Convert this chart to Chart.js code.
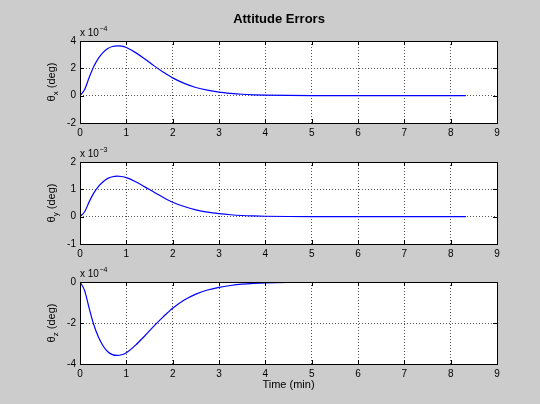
<!DOCTYPE html>
<html lang="en">
<head>
    <meta charset="UTF-8">
    <title>Attitude Errors</title>
    <style>
        body {
            margin: 0;
            padding: 0;
            background-color: #cccccc;
        }

        .fig {
            position: relative;
            width: 540px;
            height: 404px;
            background-color: #cccccc;
        }

        .fig canvas {
            position: absolute;
            left: 0;
            top: 0;
        }
    </style>
</head>
<body>
    <div class="fig">
        <canvas id="plotX" width="540" height="404"></canvas>
        <canvas id="plotY" width="540" height="404"></canvas>
        <canvas id="plotZ" width="540" height="404"></canvas>
    </div>

    <script src="https://cdn.jsdelivr.net/npm/chart.js"></script>
    <script>
        // time in minutes
        const timeMin = [0, 0.1, 0.2, 0.3, 0.4, 0.5, 0.6, 0.7, 0.8, 0.9, 1.0, 1.2, 1.4, 1.6, 1.8, 2.0,
            2.25, 2.5, 2.75, 3.0, 3.25, 3.5, 3.75, 4.0, 4.5, 5.0, 6.0, 7.0, 8.0, 8.33];

        // theta_x, units of 1e-4 deg
        const thetaX = [0, 0.45, 1.35, 2.15, 2.75, 3.17, 3.45, 3.6, 3.65, 3.62, 3.52, 3.15, 2.68, 2.18, 1.72, 1.3,
            0.9, 0.6, 0.4, 0.26, 0.17, 0.105, 0.065, 0.04, 0.015, 0.005, 0, 0, 0, 0];

        // theta_y, units of 1e-3 deg
        const thetaY = [0, 0.18, 0.55, 0.87, 1.11, 1.28, 1.4, 1.46, 1.48, 1.47, 1.43, 1.28, 1.09, 0.89, 0.7, 0.53,
            0.37, 0.25, 0.165, 0.11, 0.07, 0.043, 0.027, 0.016, 0.006, 0.002, 0, 0, 0, 0];

        // theta_z, units of 1e-4 deg
        const thetaZ = [0, -0.42, -1.3, -2.1, -2.7, -3.12, -3.4, -3.54, -3.58, -3.55, -3.45, -3.08, -2.62, -2.14, -1.69, -1.28,
            -0.88, -0.59, -0.39, -0.26, -0.17, -0.105, -0.065, -0.04, -0.015, -0.005, 0, 0, 0, 0];

        const xTicks = [0, 1, 2, 3, 4, 5, 6, 7, 8, 9];

        const FONT = '"Liberation Sans", Arial, Helvetica, sans-serif';

        // white axes background + matlab style box, inward ticks and labels
        const axesPlugin = {
            id: 'axesBox',
            beforeDraw(chart) {
                const a = chart.chartArea;
                const ctx = chart.ctx;
                ctx.save();
                ctx.fillStyle = '#ffffff';
                ctx.fillRect(a.left, a.top, a.right - a.left, a.bottom - a.top);
                ctx.restore();
            },
            afterDraw(chart, args, opts) {
                const a = chart.chartArea;
                const ctx = chart.ctx;
                const xs = chart.scales.x;
                const ys = chart.scales.y;
                ctx.save();
                ctx.strokeStyle = '#000000';
                ctx.lineWidth = 1;
                ctx.beginPath();
                xs.ticks.forEach(t => {
                    const px = Math.round(xs.getPixelForValue(t.value)) + 0.5;
                    ctx.moveTo(px, a.top);
                    ctx.lineTo(px, a.top + 4);
                    ctx.moveTo(px, a.bottom);
                    ctx.lineTo(px, a.bottom - 4);
                });
                ys.ticks.forEach(t => {
                    const py = Math.round(ys.getPixelForValue(t.value)) + 0.5;
                    ctx.moveTo(a.left, py);
                    ctx.lineTo(a.left + 4, py);
                    ctx.moveTo(a.right, py);
                    ctx.lineTo(a.right - 4, py);
                });
                ctx.stroke();
                ctx.strokeRect(Math.round(a.left) + 0.5, Math.round(a.top) + 0.5,
                    Math.round(a.right - a.left), Math.round(a.bottom - a.top));

                ctx.fillStyle = '#000000';

                // exponent label "x 10^n"
                ctx.font = '10px ' + FONT;
                ctx.textAlign = 'left';
                ctx.textBaseline = 'alphabetic';
                const base = 'x 10';
                ctx.fillText(base, a.left, a.top - 5);
                const bw = ctx.measureText(base).width;
                ctx.font = '7px ' + FONT;
                ctx.fillText(opts.exponent, a.left + bw + 0.5, a.top - 10);

                // y label: theta with subscript
                ctx.translate(52, (a.top + a.bottom) / 2);
                ctx.rotate(-Math.PI / 2);
                ctx.textBaseline = 'middle';
                ctx.font = '11px ' + FONT;
                const wTheta = ctx.measureText('\u03b8').width;
                const wRest = ctx.measureText(' (deg)').width;
                ctx.font = '8px ' + FONT;
                const wSub = ctx.measureText(opts.sub).width;
                let x0 = -(wTheta + wSub + wRest) / 2;
                ctx.font = '11px ' + FONT;
                ctx.fillText('\u03b8', x0, 0);
                ctx.font = '8px ' + FONT;
                ctx.fillText(opts.sub, x0 + wTheta, 4);
                ctx.font = '11px ' + FONT;
                ctx.fillText(' (deg)', x0 + wTheta + wSub, 0);
                ctx.restore();

                if (opts.title) {
                    ctx.save();
                    ctx.fillStyle = '#000000';
                    ctx.font = 'bold 13px ' + FONT;
                    ctx.textAlign = 'center';
                    ctx.textBaseline = 'middle';
                    ctx.fillText(opts.title, 279, 19);
                    ctx.restore();
                }
                if (opts.xTitle) {
                    ctx.save();
                    ctx.fillStyle = '#000000';
                    ctx.font = '11px ' + FONT;
                    ctx.textAlign = 'center';
                    ctx.textBaseline = 'middle';
                    ctx.fillText(opts.xTitle, (a.left + a.right) / 2, a.bottom + 21);
                    ctx.restore();
                }
            }
        };

        function makeSubplot(id, values, yMin, yMax, yStep, padTop, padBottom, sub, exponent, title, xTitle) {
            const ctx = document.getElementById(id).getContext('2d');
            return new Chart(ctx, {
                type: 'line',
                data: {
                    datasets: [{
                        data: timeMin.map((t, i) => ({ x: t, y: values[i] })),
                        borderColor: '#0000ff',
                        borderWidth: 1.2,
                        pointRadius: 0,
                        fill: false,
                        cubicInterpolationMode: 'monotone'
                    }]
                },
                options: {
                    responsive: false,
                    animation: false,
                    events: [],
                    layout: { padding: { left: 0, right: 43, top: padTop, bottom: padBottom } },
                    plugins: {
                        legend: { display: false },
                        tooltip: { enabled: false },
                        axesBox: { sub: sub, exponent: exponent, title: title, xTitle: xTitle }
                    },
                    scales: {
                        x: {
                            type: 'linear',
                            min: 0,
                            max: 9,
                            afterFit: s => { s.height = 20; },
                            afterBuildTicks: s => { s.ticks = xTicks.map(v => ({ value: v })); },
                            ticks: {
                                autoSkip: false,
                                maxRotation: 0,
                                padding: 4,
                                color: '#000000',
                                font: { family: FONT, size: 10 },
                                callback: v => String(v)
                            },
                            grid: { color: '#555555', drawTicks: false },
                            border: { display: false, dash: [1, 2] }
                        },
                        y: {
                            min: yMin,
                            max: yMax,
                            afterFit: s => { s.width = 80; },
                            ticks: {
                                stepSize: yStep,
                                padding: 4,
                                color: '#000000',
                                font: { family: FONT, size: 10 },
                                callback: v => String(v)
                            },
                            grid: { color: '#555555', drawTicks: false },
                            border: { display: false, dash: [1, 2] }
                        }
                    }
                },
                plugins: [axesPlugin]
            });
        }

        makeSubplot('plotX', thetaX, -2, 4, 2, 41, 261, 'x', '\u22124', 'Attitude Errors', null);
        makeSubplot('plotY', thetaY, -1, 2, 1, 162, 140, 'y', '\u22123', null, null);
        makeSubplot('plotZ', thetaZ, -4, 0, 2, 282, 20, 'z', '\u22124', null, 'Time (min)');
    </script>
</body>
</html>
